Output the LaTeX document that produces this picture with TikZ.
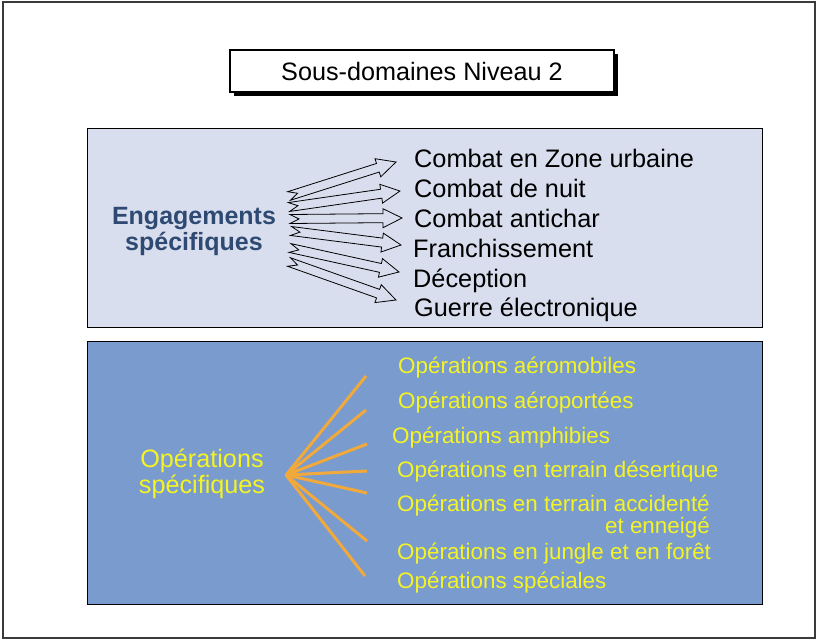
\documentclass[tikz,border=0pt]{standalone}
\usepackage{fontspec}
\setmainfont{Liberation Sans}
\usetikzlibrary{calc,shadows}
\definecolor{framegray}{HTML}{3A3A3A}
\definecolor{upfill}{HTML}{D9DEEE}
\definecolor{lowfill}{HTML}{7A9BCE}
\definecolor{engblue}{HTML}{2E4A72}
\definecolor{opyellow}{HTML}{F4F424}
\definecolor{rayorange}{HTML}{F2A93B}
\newcommand{\hollowarrow}[2]{%
  \draw[blockarrow] let \p1=(#1), \p2=(#2),
    \n1={atan2(\y2-\y1,\x2-\x1)}, \n2={veclen(\x2-\x1,\y2-\y1)} in
    [shift={(\p1)}, rotate=\n1]
    (0,-4.5) -- ({\n2-19},-4.5) -- ({\n2-19},-9.5) -- (\n2,0) -- ({\n2-19},9.5)
    -- ({\n2-19},4.5) -- (0,4.5) -- (9,0) -- cycle;}
\begin{document}
\begin{tikzpicture}[x=1pt,y=-1pt,
  panel/.style={draw=black, line width=1.3pt, inner sep=0pt, anchor=north west},
  item/.style={anchor=base west, inner sep=0pt, font=\fontsize{25.3}{28}\selectfont},
  opitem/.style={anchor=base west, inner sep=0pt, text=opyellow, font=\fontsize{22.4}{25}\selectfont},
  ray/.style={draw=rayorange, line width=3pt},
  blockarrow/.style={draw=black, line width=0.8pt, line join=miter}]

\useasboundingbox (0,0) rectangle (818,640);
\draw[framegray, line width=1.5pt] (3,2) rectangle (815,638);

% title
\node[draw=black, line width=1.2pt, fill=white, minimum width=384pt, minimum height=42pt,
      inner sep=0pt, font=\fontsize{25.2}{28}\selectfont,
      drop shadow={fill=black, opacity=1, shadow xshift=4pt, shadow yshift=-4pt}]
      (title) at (422,71) {Sous-domaines Niveau 2};

% panels
\node[panel, fill=upfill, minimum width=675pt, minimum height=199pt] (up) at (87,128) {};
\node[panel, fill=lowfill, minimum width=675pt, minimum height=263pt] (low) at (87,341) {};

% upper panel
\node[align=center, inner sep=0pt, text=engblue, font=\bfseries\fontsize{25}{26}\selectfont,
      anchor=base] (eng) at (194,250) {Engagements\\spécifiques};

\node[item] (c1) at (414,167) {Combat en Zone urbaine};
\node[item] (c2) at (414,197) {Combat de nuit};
\node[item] (c3) at (414,227) {Combat antichar};
\node[item] (c4) at (413,257) {Franchissement};
\node[item] (c5) at (413,287) {Déception};
\node[item] (c6) at (414,316) {Guerre électronique};

\coordinate (t1) at (289,196);
\coordinate (t2) at (289,207);
\coordinate (t3) at (290,219);
\coordinate (t4) at (291,231);
\coordinate (t5) at (290,248);
\coordinate (t6) at (289,262);
\coordinate (h1) at (396,162);
\coordinate (h2) at (400,191);
\coordinate (h3) at (402,218);
\coordinate (h4) at (401,245);
\coordinate (h5) at (399,272);
\coordinate (h6) at (396,300);
\foreach \i in {1,...,6} {\hollowarrow{t\i}{h\i}}

% lower panel
\node[align=center, inner sep=0pt, text=opyellow, font=\fontsize{25.2}{25.5}\selectfont,
      anchor=base] (ops) at (202,493) {Opérations\\spécifiques};

\node[opitem] (o1) at (398,373) {Opérations aéromobiles};
\node[opitem] (o2) at (398,408) {Opérations aéroportées};
\node[opitem] (o3) at (392,443) {Opérations amphibies};
\node[opitem] (o4) at (397,477) {Opérations en terrain désertique};
\node[opitem] (o5) at (397,511) {Opérations en terrain accidenté};
\node[opitem, anchor=base east] (o5b) at (o5.base east) [yshift=-22pt] {et enneigé};
\node[opitem] (o6) at (397,559) {Opérations en jungle et en forêt};
\node[opitem] (o7) at (397,588) {Opérations spéciales};

\coordinate (hub) at (286,475);
\coordinate (r1) at (366,376);
\coordinate (r2) at (366,410);
\coordinate (r3) at (367,444);
\coordinate (r4) at (367,471);
\coordinate (r5) at (367,493);
\coordinate (r6) at (367,541);
\coordinate (r7) at (365,576);
\foreach \i in {1,...,7} {\draw[ray] (hub) -- (r\i);}
\end{tikzpicture}
\end{document}
